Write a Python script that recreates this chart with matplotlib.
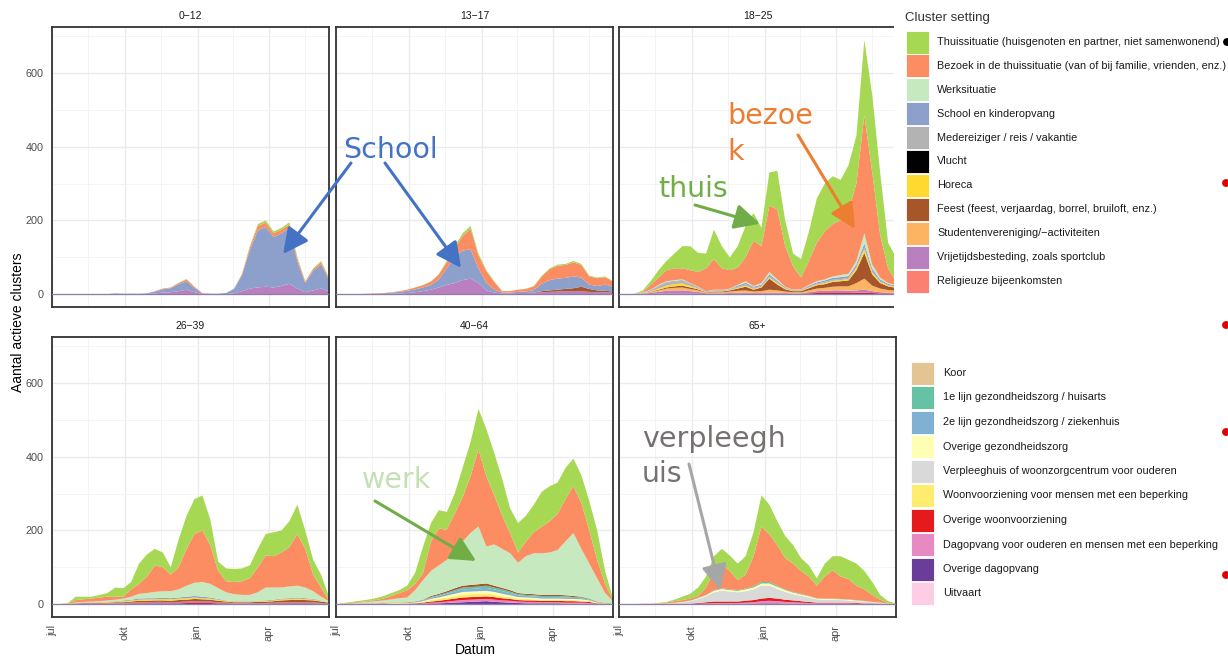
import matplotlib
matplotlib.use("Agg")
import matplotlib.pyplot as plt
from matplotlib.patches import Rectangle, Circle

plt.rcParams['font.family'] = ['Liberation Sans', 'DejaVu Sans']

# =========================
# Data (days since 1 jul, every 10 days)
# =========================

days = list(range(0, 351, 10))

month_days = [0, 92, 184, 274]
month_labels = ["jul", "okt", "jan", "apr"]

keys = ["thuis", "bezoek", "werk", "school", "mede", "vlucht", "horeca", "feest",
        "studenten", "vrije", "religie", "koor", "lijn1", "lijn2", "ogez",
        "verpleeg", "woon", "owoon", "dagopvang", "odagopvang", "uitvaart"]

labels = [
    "Thuissituatie (huisgenoten en partner, niet samenwonend)",
    "Bezoek in de thuissituatie (van of bij familie, vrienden, enz.)",
    "Werksituatie",
    "School en kinderopvang",
    "Medereiziger / reis / vakantie",
    "Vlucht",
    "Horeca",
    "Feest (feest, verjaardag, borrel, bruiloft, enz.)",
    "Studentenvereniging/\u2212activiteiten",
    "Vrijetijdsbesteding, zoals sportclub",
    "Religieuze bijeenkomsten",
    "Koor",
    "1e lijn gezondheidszorg / huisarts",
    "2e lijn gezondheidszorg / ziekenhuis",
    "Overige gezondheidszorg",
    "Verpleeghuis of woonzorgcentrum voor ouderen",
    "Woonvoorziening voor mensen met een beperking",
    "Overige woonvoorziening",
    "Dagopvang voor ouderen en mensen met een beperking",
    "Overige dagopvang",
    "Uitvaart",
]

colors = ["#A6D854", "#FC8D62", "#C7E9C0", "#8DA0CB", "#B3B3B3", "#000000",
          "#FFD92F", "#A65628", "#FDB462", "#BA7FBF", "#FB8072", "#E5C494",
          "#66C2A5", "#80B1D3", "#FFFFB3", "#D9D9D9", "#FFED6F", "#E41A1C",
          "#E78AC3", "#6A3D9A", "#FCCDE5"]

panel_titles = ["0\u221212", "13\u221217", "18\u221225", "26\u221239", "40\u221264", "65+"]

# 0-12
thuis_a = [0,0,0,0,0,0,0,0,0,0,0,0,0,0,0,0,1,1,0,0,0,0,0,0,1,3,5,6,5,5,6,3,1,2,3,2]
bezoek_a = [0,0,0,0,0,0,0,0,0,0,0,0,0,1,2,2,3,5,3,1,0,0,0,1,3,8,12,12,10,10,10,8,4,5,6,4]
school_a = [0,0,0,0,0,0,0,0,1,1,1,1,2,5,9,11,19,23,12,1,1,1,3,12,43,104,155,162,137,143,151,74,25,53,66,31]
vrije_a = [0,0,0,0,0,0,0,0,1,0,0,0,0,2,4,5,8,12,5,1,0,0,0,2,8,15,18,20,18,22,28,15,5,10,15,8]

# 13-17
thuis_b = [0,0,0,0,0,0,0,0,0,0,0,1,1,2,3,5,7,8,5,3,2,0,0,0,1,1,2,2,3,3,4,3,2,2,2,1]
bezoek_b = [0,0,0,0,0,1,1,1,2,3,5,6,9,13,17,25,40,55,35,32,21,4,4,6,7,10,20,30,35,35,38,34,22,21,20,14]
school_b = [0,0,0,0,1,1,2,3,4,6,8,10,13,22,45,70,80,80,40,20,8,2,2,3,4,7,20,28,30,30,32,25,12,12,17,13]
feest_b = [0,0,0,0,0,0,0,0,0,0,0,0,0,0,0,0,0,0,0,0,0,0,0,0,0,0,3,4,5,6,8,12,8,5,4,3]
vrije_b = [0,0,0,0,0,0,0,1,2,3,5,8,12,18,25,30,38,42,30,10,4,2,2,3,3,4,5,6,7,8,8,8,6,5,5,4]

# 18-25
thuis_c = [0,0,0,4,10,20,25,40,60,65,52,40,80,60,35,58,85,75,50,90,105,70,35,50,80,120,130,130,110,125,130,205,210,170,70,65]
bezoek_c = [0,0,0,2,13,20,30,32,30,35,40,62,83,58,50,47,65,123,100,180,190,110,63,32,65,105,130,142,148,170,210,320,250,115,40,10]
werk_c = [0,0,0,1,1,2,2,2,2,1,1,0,1,1,1,2,4,2,4,6,4,1,1,1,2,3,3,4,6,6,9,28,11,5,2,2]
school_c = [0,0,0,0,1,2,2,2,2,2,1,1,1,1,1,3,4,3,3,5,4,2,1,2,3,3,4,5,5,5,6,10,7,4,3,2]
mede_c = [0,0,1,1,3,6,8,7,7,5,3,1,2,2,2,3,4,3,3,4,3,2,1,1,2,3,3,3,3,3,4,5,4,3,2,2]
horeca_c = [0,0,0,0,1,3,5,6,6,4,2,1,1,1,1,2,3,2,2,3,3,2,1,1,2,2,3,3,3,4,6,10,5,3,2,2]
feest_c = [0,0,0,0,1,2,3,4,5,4,3,1,2,2,3,6,10,5,10,30,16,6,3,3,6,9,10,13,14,16,35,70,30,15,10,8]
studenten_c = [0,0,0,1,2,4,6,7,8,6,4,2,3,3,4,5,6,4,5,8,6,4,3,3,5,7,8,10,11,12,20,30,15,10,7,6]
vrije_c = [0,0,0,1,3,5,8,9,9,7,5,2,2,2,2,3,3,2,2,3,3,2,1,1,3,5,6,7,7,6,6,8,5,3,2,2]
owoon_c = [0,0,0,0,0,1,1,1,1,1,1,0,0,0,1,1,1,1,1,1,1,1,1,1,2,3,3,3,3,3,4,4,3,2,2,1]

# 26-39
thuis_d = [0,0,1,9,7,5,7,10,25,23,20,55,60,45,40,20,75,90,95,95,70,25,35,35,35,35,50,58,65,60,70,80,50,40,35,10]
bezoek_d = [0,0,1,6,7,8,10,10,8,5,20,27,45,72,65,45,60,100,132,140,105,47,30,33,37,45,68,87,85,95,107,140,105,45,25,2]
werk_d = [0,0,0,1,1,2,2,3,4,5,8,13,14,17,18,19,22,30,36,40,37,29,22,19,17,17,23,35,33,30,32,32,29,21,10,3]
school_d = [0,0,0,1,1,1,1,1,1,2,2,3,3,3,3,3,3,4,4,4,3,2,1,1,1,1,1,2,2,2,2,3,2,2,1,0]
horeca_d = [0,0,1,1,1,1,2,2,2,3,3,3,4,3,4,4,4,4,4,3,3,3,2,2,2,2,2,2,2,3,3,3,3,2,2,1]
feest_d = [0,0,0,1,1,1,1,1,2,2,3,4,4,4,4,4,5,5,6,6,5,4,3,2,2,2,3,3,4,5,6,7,6,5,4,2]
vrije_d = [0,0,0,1,1,1,1,2,2,2,2,3,3,4,4,3,4,4,5,4,4,3,2,2,2,2,2,2,2,3,3,3,3,3,2,1]
owoon_d = [0,0,0,0,1,1,1,1,1,1,2,2,2,2,2,2,2,3,3,3,3,2,2,1,1,1,1,1,2,2,2,2,2,2,1,1]

# 40-64
thuis_e = [0,1,2,3,4,5,7,8,8,12,30,72,50,50,48,55,80,93,110,128,115,100,67,80,70,75,95,95,85,85,75,75,80,80,35,5]
bezoek_e = [0,1,2,2,2,3,5,9,14,20,17,19,80,100,82,110,120,154,209,191,133,90,55,28,40,57,72,85,98,115,127,125,90,50,25,2]
werk_e = [0,1,1,3,4,6,7,9,12,13,31,53,68,77,85,92,120,141,157,100,112,106,100,82,102,111,113,115,122,146,171,130,95,63,26,7]
feest_e = [0,0,1,1,1,1,1,1,1,1,1,1,3,3,4,5,5,6,6,6,5,4,4,3,3,3,3,3,3,3,3,2,1,1,0,1]
lijn1_e = [0,0,0,0,0,0,0,0,0,0,1,1,2,3,3,4,5,5,5,6,5,5,4,3,3,3,3,3,3,3,2,2,2,1,1,0]
lijn2_e = [0,0,0,0,0,0,0,0,0,1,1,2,3,4,5,6,7,7,8,8,7,7,6,5,4,4,4,4,4,4,3,3,2,1,0,0]
ogez_e = [0,0,0,0,1,1,1,1,1,1,1,2,3,4,5,6,7,7,7,7,7,6,5,4,4,4,3,3,3,3,3,3,2,1,1,0]
woon_e = [0,0,0,0,0,0,0,1,1,1,1,2,4,5,6,7,8,8,8,8,7,6,5,4,4,3,3,3,3,3,3,3,2,1,0,0]
owoon_e = [0,0,0,0,0,0,1,1,1,1,1,2,3,4,5,6,7,7,7,7,7,6,5,4,4,4,4,4,4,4,4,3,3,1,1,0]
dagopvang_e = [0,0,0,0,0,0,0,0,0,0,1,1,2,3,4,5,6,6,6,6,6,5,5,4,4,4,3,3,3,3,3,3,2,1,1,0]
odagopvang_e = [0,0,0,0,0,0,0,0,0,0,0,1,2,2,3,4,5,6,7,8,6,5,4,3,2,2,2,2,2,1,1,1,1,0,0,0]

# 65+
thuis_f = [0,0,0,0,0,1,2,4,9,13,23,30,40,42,42,45,50,65,85,80,65,60,50,35,30,20,35,38,55,52,60,50,35,13,5,1]
bezoek_f = [0,0,0,1,1,1,2,4,5,5,5,20,52,65,50,27,38,82,150,130,110,85,77,62,53,34,60,77,61,55,39,31,19,8,1,0]
lijn1_f = [0,0,0,0,0,0,0,0,0,1,1,1,2,2,2,2,2,3,4,4,3,2,2,2,1,1,1,1,1,1,1,1,0,0,0,0]
ogez_f = [0,0,0,0,0,0,0,0,1,1,2,3,4,4,4,4,5,5,6,6,6,5,4,3,3,2,2,2,2,2,2,1,1,1,0,0]
verpleeg_f = [0,0,0,0,0,1,2,3,4,7,11,16,25,30,27,25,26,29,35,33,26,21,17,15,12,9,8,8,7,6,5,5,3,2,2,1]
owoon_f = [0,0,0,0,0,0,0,1,1,1,2,3,4,4,4,4,5,6,7,8,7,6,5,4,3,2,2,2,2,2,2,1,1,1,0,0]
dagopvang_f = [0,0,0,0,0,0,0,0,0,0,1,1,2,2,2,2,3,4,6,7,6,5,4,3,2,2,2,2,2,2,1,1,1,0,0,0]
odagopvang_f = [0,0,0,0,0,0,0,0,0,0,0,1,1,1,1,1,1,1,2,2,2,1,1,1,1,0,0,0,0,0,0,0,0,0,0,0]

panel_series = [
    dict(thuis=thuis_a, bezoek=bezoek_a, school=school_a, vrije=vrije_a),
    dict(thuis=thuis_b, bezoek=bezoek_b, school=school_b, feest=feest_b, vrije=vrije_b),
    dict(thuis=thuis_c, bezoek=bezoek_c, werk=werk_c, school=school_c, mede=mede_c,
         horeca=horeca_c, feest=feest_c, studenten=studenten_c, vrije=vrije_c, owoon=owoon_c),
    dict(thuis=thuis_d, bezoek=bezoek_d, werk=werk_d, school=school_d, horeca=horeca_d,
         feest=feest_d, vrije=vrije_d, owoon=owoon_d),
    dict(thuis=thuis_e, bezoek=bezoek_e, werk=werk_e, feest=feest_e, lijn1=lijn1_e,
         lijn2=lijn2_e, ogez=ogez_e, woon=woon_e, owoon=owoon_e, dagopvang=dagopvang_e,
         odagopvang=odagopvang_e),
    dict(thuis=thuis_f, bezoek=bezoek_f, lijn1=lijn1_f, ogez=ogez_f, verpleeg=verpleeg_f,
         owoon=owoon_f, dagopvang=dagopvang_f, odagopvang=odagopvang_f),
]

color_of = dict(zip(keys, colors))

# =========================
# Figure
# =========================

W, H = 1228, 659
fig = plt.figure(figsize=(W / 100, H / 100), dpi=100)

panel_pos = [(52, 27), (336, 27), (619, 27), (52, 337), (336, 337), (619, 337)]
pw, ph = 277, 280

axes = []
for i, (left, top) in enumerate(panel_pos):
    ax = fig.add_axes([left / W, 1 - (top + ph) / H, pw / W, ph / H])
    series = panel_series[i]
    order = [k for k in reversed(keys) if k in series]
    ax.stackplot(days, *[series[k] for k in order],
                 colors=[color_of[k] for k in order], linewidth=0)
    ax.axhline(0, color="#8E7FA8", lw=0.9, zorder=3)

    ax.set_xlim(0, 350)
    ax.set_ylim(-35, 725)
    ax.set_xticks(month_days)
    ax.set_xticks([46, 138, 229, 320], minor=True)
    ax.set_yticks([0, 200, 400, 600])
    ax.set_yticks([100, 300, 500, 700], minor=True)
    ax.grid(True, which="major", color="#EBEBEB", lw=1.0)
    ax.grid(True, which="minor", color="#F3F3F3", lw=0.6)
    ax.set_axisbelow(True)
    ax.tick_params(which="both", length=0, labelsize=7.8, labelcolor="#4D4D4D")
    ax.tick_params(axis="y", pad=6)
    ax.tick_params(axis="x", pad=6)

    if i >= 3:
        ax.set_xticklabels(month_labels, rotation=90)
    else:
        ax.set_xticklabels([])
    if i % 3 != 0:
        ax.set_yticklabels([])

    for s in ax.spines.values():
        s.set_color("#333333")
        s.set_linewidth(1.3)

    ax.set_title(panel_titles[i], fontsize=7.5, color="#1A1A1A", pad=6)
    axes.append(ax)

# overlay in pixel coordinates
ov = fig.add_axes([0, 0, 1, 1])
ov.set_xlim(0, W)
ov.set_ylim(H, 0)
ov.axis("off")

# legend area covers right edge of the 18-25 panel
ov.add_patch(Rectangle((894, 0), W - 894, 318, facecolor="white", edgecolor="none", zorder=1))

ov.text(18, 322, "Aantal actieve clusters", rotation=90, ha="center", va="center",
        fontsize=10, color="black")
ov.text(475, 650, "Datum", ha="center", va="center", fontsize=10, color="black")

# legend
ov.text(905, 18, "Cluster setting", ha="left", va="center", fontsize=9.5, color="#333333", zorder=3)
for j in range(11):
    yc = 42 + j * 23.9
    ov.add_patch(Rectangle((906, yc - 11.5), 23, 23, facecolor=colors[j], edgecolor="white",
                           lw=0.6, zorder=3))
    ov.text(937, yc, labels[j], ha="left", va="center", fontsize=7.8, color="#1A1A1A", zorder=3)
for j in range(11, 21):
    yc = 373 + (j - 11) * 24.5
    ov.add_patch(Rectangle((911, yc - 11.5), 23, 23, facecolor=colors[j], edgecolor="white",
                           lw=0.6, zorder=3))
    ov.text(943, yc, labels[j], ha="left", va="center", fontsize=7.8, color="#1A1A1A", zorder=3)

# dots at the right edge of the screenshot
ov.add_patch(Circle((1227, 42), 3.2, color="black", zorder=3))
for yd in [183, 325, 432, 575]:
    ov.add_patch(Circle((1226, yd), 3.2, color="#E00000", zorder=3))

# =========================
# Annotations
# =========================

ann_font = dict(family="DejaVu Sans", fontsize=20.5, ha="left", va="baseline", zorder=4)
ov.text(343, 158, "School", color="#4472C4", **ann_font)
ov.text(658, 197, "thuis", color="#70AD47", **ann_font)
ov.text(727, 124, "bezoe", color="#ED7D31", **ann_font)
ov.text(727, 160, "k", color="#ED7D31", **ann_font)
ov.text(362, 488, "werk", color="#C5E0B4", **ann_font)
ov.text(642, 447, "verpleegh", color="#767171", **ann_font)
ov.text(642, 482, "uis", color="#767171", **ann_font)

arrows = [
    (0, 292, 109, 351, 163, "#4472C4"),
    (1, 158, 71, 385, 163, "#4472C4"),
    (2, 178, 191, 695, 205, "#70AD47"),
    (2, 298, 177, 798, 135, "#ED7D31"),
    (4, 177, 117, 375, 501, "#70AD47"),
    (5, 128, 38, 689, 464, "#A6A6A6"),
]
for p, d, v, tx, ty, c in arrows:
    ov.annotate("", xy=(d, v), xycoords=axes[p].transData, xytext=(tx, ty),
                textcoords="data", annotation_clip=False,
                arrowprops=dict(arrowstyle="-|>,head_length=0.9,head_width=0.45",
                                color=c, lw=2.2, mutation_scale=17,
                                shrinkA=0, shrinkB=0),
                zorder=4)

fig.savefig("out.png", dpi=100)
